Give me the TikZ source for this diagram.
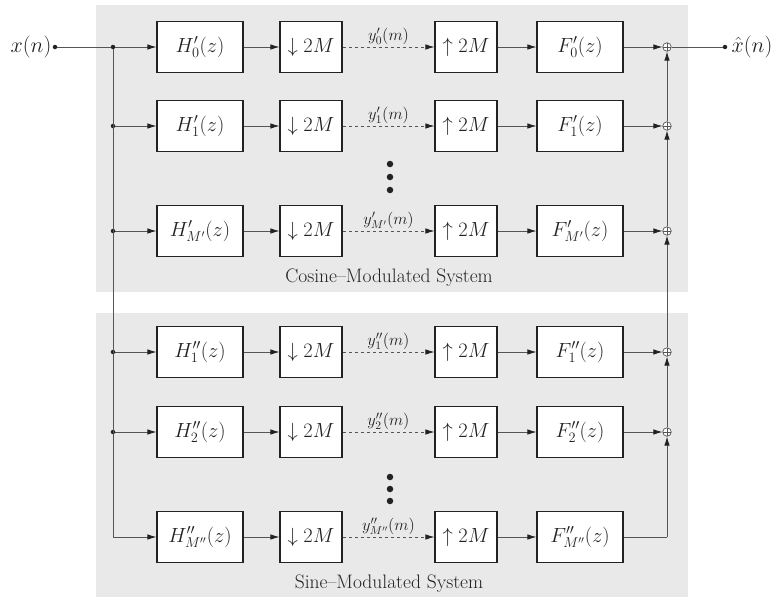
\RequirePackage{fix-cm}
\documentclass[tikz,border=0pt]{standalone}
\usetikzlibrary{arrows.meta}
\definecolor{panelgray}{HTML}{E9E9E9}
\definecolor{wire}{HTML}{555555}
\definecolor{ink}{HTML}{222222}
\tikzset{
  blk/.style={draw=ink, line width=1.1pt, fill=white, minimum height=51pt,
              inner sep=0pt, font=\fontsize{20.5}{24}\selectfont, text=ink},
  hbox/.style={blk, minimum width=86pt},
  rbox/.style={blk, minimum width=62pt},
  wireline/.style={draw=wire, line width=0.8pt},
  conn/.style={wireline, -{Latex[length=9pt,width=5.5pt,color=ink]}},
  dconn/.style={conn, dashed, dash pattern=on 3.5pt off 2.5pt},
  tap/.style={circle, fill=ink, inner sep=0pt, minimum size=4.5pt},
  bigdot/.style={circle, fill=ink, inner sep=0pt, minimum size=6.5pt},
  adder/.style={circle, draw=wire, line width=0.7pt, fill=white, inner sep=0pt,
                minimum size=8.5pt,
                path picture={\draw[wire, line width=0.6pt]
                  (path picture bounding box.north) -- (path picture bounding box.south)
                  (path picture bounding box.west) -- (path picture bounding box.east);}},
  sig/.style={font=\fontsize{16.5}{19}\selectfont, text=ink, inner sep=1pt},
  io/.style={font=\fontsize{22}{26}\selectfont, text=ink, inner sep=1pt},
  caption/.style={font=\fontsize{19.5}{23}\selectfont, text=ink},
  panel/.style={fill=panelgray, draw=none}
}
\begin{document}
\begin{tikzpicture}[x=1pt, y=-1pt]
\useasboundingbox (0,0) rectangle (773,597);

% shaded panels for the two subsystems
\path[panel] (96,5) rectangle (688,292);
\path[panel] (96,313) rectangle (688,597);
\node[caption] (capc) at (389,278) {Cosine--Modulated System};
\node[caption] (caps) at (389,584) {Sine--Modulated System};

% one analysis/synthesis channel per row
\foreach \i/\y/\hl/\fl/\yl in {
  0/47/{H'_0(z)}/{F'_0(z)}/{y'_0(m)},
  1/126/{H'_1(z)}/{F'_1(z)}/{y'_1(m)},
  2/231/{H'_{M'}(z)}/{F'_{M'}(z)}/{y'_{M'}(m)},
  3/352/{H''_1(z)}/{F''_1(z)}/{y''_1(m)},
  4/432/{H''_2(z)}/{F''_2(z)}/{y''_2(m)},
  5/537/{H''_{M''}(z)}/{F''_{M''}(z)}/{y''_{M''}(m)}} {
  \node[hbox] (h\i) at (200,\y) {$\hl$};
  \node[rbox] (d\i) at (311,\y) {$\downarrow 2M$};
  \node[rbox] (u\i) at (466,\y) {$\uparrow 2M$};
  \node[hbox] (f\i) at (580,\y) {$\fl$};
  \coordinate (b\i) at (113,\y);
  \draw[conn] (b\i) -- (h\i);
  \draw[conn] (h\i) -- (d\i);
  \draw[dconn] (d\i) -- node[sig, above, yshift=1pt] {$\yl$} (u\i);
  \draw[conn] (u\i) -- (f\i);
}

% adders on the right
\foreach \i/\y in {0/47,1/126,2/231,3/352,4/432} {
  \node[adder] (s\i) at (667,\y) {};
  \draw[conn] (f\i) -- (s\i);
  \node[tap] (t\i) at (b\i) {};
}
\coordinate (c5) at (667,537);
\draw[wireline] (f5) -- (c5);
\draw[conn] (c5) -- (s4);
\draw[conn] (s4) -- (s3);
\draw[conn] (s3) -- (s2);
\draw[conn] (s2) -- (s1);
\draw[conn] (s1) -- (s0);

% input fan-out
\node[tap] (xin) at (55,47) {};
\node[io, anchor=east] (xlab) at (xin.west) {$x(n)$};
\draw[wireline] (xin) -- (t0);
\draw[wireline] (t0) -- (b5);

% output
\node[tap] (xout) at (725,47) {};
\node[io, anchor=west, xshift=3pt] (ylab) at (xout.east) {$\hat{x}(n)$};
\draw[wireline] (s0) -- (xout);

% omitted channels
\foreach \k/\y in {a/164,b/177,c/190} {
  \node[bigdot] (vc\k) at (390,\y) {};
}
\foreach \k/\y in {a/477,b/489,c/501} {
  \node[bigdot] (vs\k) at (390,\y) {};
}
\end{tikzpicture}
\end{document}
